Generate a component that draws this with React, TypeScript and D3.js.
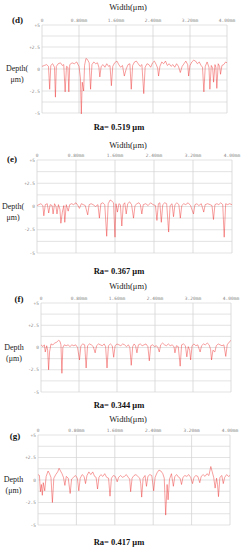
import React from 'react';
import * as d3 from 'd3';

// surface profiles, [width (mm), depth (µm)]
const profileD: [number, number][] = [
  [0, 0.3], [0.05, 0.4], [0.1, 0.5], [0.14, 0.3], [0.166, -2.3], [0.19, 0.4], [0.23, 0.6], [0.27, 0.2], [0.29, -3.2],
  [0.31, 0.3], [0.35, 0.6], [0.4, 0.7], [0.44, 0.4], [0.47, 0.5], [0.5, -2.6], [0.53, 0.3], [0.56, 0.2], [0.58, -2.6],
  [0.6, 0.5], [0.65, 0.7], [0.7, 0.6], [0.75, 0.8], [0.8, 0.3], [0.83, -1.0], [0.85, -5.1], [0.87, -1.5], [0.9, -2.5],
  [0.92, 0.4], [0.95, 1.2], [0.98, 1.1], [1.02, 0.7], [1.05, -2.3], [1.08, 0.5], [1.12, 0.8], [1.16, 0.6], [1.2, 0.7],
  [1.23, 0.2], [1.25, -0.9], [1.28, 0.3], [1.32, 0.5], [1.36, 0.2], [1.4, 0.6], [1.44, 0.3], [1.47, 0.4], [1.5, -1.9],
  [1.53, 0.3], [1.57, 0.7], [1.62, 0.9], [1.66, 0.5], [1.7, 0.2], [1.74, 0.4], [1.78, -0.8], [1.82, 0.0], [1.86, 0.5],
  [1.9, 0.6], [1.93, -2.3], [1.96, 0.4], [2.0, 0.8], [2.04, 0.9], [2.08, 0.6], [2.12, 0.3], [2.16, 0.5], [2.2, -2.8],
  [2.23, 0.2], [2.27, 0.6], [2.31, 0.5], [2.35, 0.2], [2.39, 0.7], [2.43, 0.9], [2.47, 0.5], [2.5, 0.1], [2.52, -0.8],
  [2.55, 0.3], [2.59, 0.8], [2.63, 0.6], [2.67, 0.9], [2.71, 0.4], [2.75, 0.6], [2.79, 0.3], [2.83, 0.5], [2.87, 0.2],
  [2.91, 0.6], [2.95, 0.3], [2.99, -0.4], [3.03, 0.3], [3.07, 0.6], [3.11, 0.9], [3.15, 0.5], [3.17, -0.8], [3.2, 0.4],
  [3.24, 0.8], [3.28, 1.0], [3.32, 0.9], [3.36, 0.6], [3.4, 0.8], [3.44, 0.4], [3.47, 0.2], [3.5, -2.6], [3.53, 0.3],
  [3.57, 0.8], [3.61, 0.2], [3.63, -2.3], [3.66, 0.4], [3.69, 0.1], [3.71, -1.5], [3.74, 0.5], [3.76, 0.2], [3.78, -2.2],
  [3.81, 0.6], [3.84, 0.3], [3.86, -0.6], [3.89, 0.4], [3.93, 0.5], [3.97, 0.8], [4.0, 0.7],
];

const profileE: [number, number][] = [
  [0, 0.1], [0.04, 0.2], [0.08, 0.3], [0.12, 0.1], [0.14, -1.0], [0.17, 0.2], [0.21, 0.3], [0.24, -0.7], [0.27, 0.2],
  [0.31, 0.1], [0.33, -0.8], [0.36, 0.3], [0.39, 0.0], [0.41, -0.8], [0.44, 0.2], [0.47, -0.3], [0.49, -1.8], [0.52, -0.6],
  [0.55, 0.1], [0.57, -1.7], [0.6, 0.2], [0.64, -0.5], [0.67, 0.2], [0.71, 0.3], [0.75, 0.2], [0.8, 0.4], [0.84, 0.1],
  [0.87, -0.2], [0.91, 0.3], [0.95, 0.2], [0.99, 0.1], [1.04, -0.9], [1.07, 0.2], [1.11, 0.3], [1.15, 0.2], [1.2, 0.0],
  [1.25, 0.2], [1.28, -1.25], [1.31, 0.3], [1.35, 0.4], [1.39, 0.2], [1.43, -3.2], [1.46, 0.3], [1.5, 0.7], [1.53, 0.6],
  [1.57, 0.4], [1.6, -3.3], [1.62, 0.3], [1.65, -0.6], [1.68, 0.3], [1.71, 0.2], [1.74, -2.1], [1.77, 0.2], [1.8, 0.4],
  [1.83, -0.8], [1.86, 0.3], [1.9, 0.5], [1.94, 0.2], [1.98, -1.25], [2.01, 0.1], [2.05, 0.3], [2.09, 0.4], [2.12, 0.2],
  [2.15, -0.8], [2.18, 0.2], [2.23, 0.3], [2.28, 0.1], [2.33, 0.4], [2.38, 0.2], [2.43, 0.1], [2.46, -1.5], [2.49, 0.3],
  [2.52, 0.4], [2.55, -1.7], [2.58, 0.2], [2.62, 0.4], [2.66, 0.3], [2.7, -2.75], [2.73, 0.1], [2.77, 0.3], [2.8, -1.1],
  [2.83, 0.2], [2.87, 0.4], [2.91, 0.2], [2.94, -1.25], [2.97, 0.1], [3.01, 0.3], [3.05, 0.2], [3.1, 0.4], [3.15, 0.1],
  [3.21, -0.8], [3.24, 0.2], [3.28, 0.3], [3.32, 0.1], [3.37, 0.3], [3.42, -0.6], [3.45, 0.2], [3.5, 0.3], [3.55, 0.2],
  [3.59, 0.1], [3.62, -1.4], [3.65, 0.2], [3.69, 0.3], [3.73, 0.2], [3.77, 0.4], [3.81, 0.2], [3.84, -3.3], [3.87, 0.3],
  [3.91, 0.2], [3.95, 0.3], [4.0, 0.2],
];

const profileF: [number, number][] = [
  [0, 0.3], [0.04, 0.1], [0.07, 0.3], [0.09, -0.5], [0.12, 0.2], [0.14, -0.3], [0.16, -2.5], [0.18, -0.5], [0.21, 0.4],
  [0.25, 0.3], [0.29, 0.5], [0.33, 0.6], [0.37, 0.8], [0.4, 0.7], [0.42, 0.3], [0.44, -2.9], [0.46, 0.0], [0.49, 0.3],
  [0.53, 0.2], [0.57, 0.3], [0.61, 0.1], [0.65, 0.3], [0.69, 0.2], [0.73, 0.3], [0.77, 0.0], [0.81, -1.4], [0.84, 0.2],
  [0.88, 0.4], [0.92, 0.3], [0.95, -2.3], [0.98, 0.2], [1.02, 0.4], [1.06, 0.3], [1.1, 0.1], [1.14, -0.6], [1.17, 0.2],
  [1.21, 0.4], [1.25, 0.3], [1.29, 0.2], [1.33, 0.4], [1.36, 0.1], [1.39, -2.3], [1.42, 0.2], [1.46, 0.4], [1.5, 0.2],
  [1.53, -1.1], [1.56, 0.2], [1.6, 0.4], [1.64, 0.3], [1.68, 0.2], [1.72, 0.4], [1.76, 0.3], [1.8, 0.1], [1.84, 0.3],
  [1.87, 0.0], [1.9, -2.0], [1.93, 0.1], [1.96, 0.4], [1.99, 0.2], [2.02, -0.6], [2.05, 0.3], [2.09, 0.4], [2.13, 0.2],
  [2.17, 0.3], [2.21, 0.4], [2.25, 0.1], [2.28, -1.5], [2.31, 0.2], [2.35, 0.3], [2.39, 0.1], [2.43, 0.2], [2.46, 0.0],
  [2.49, -0.5], [2.52, 0.3], [2.56, 0.5], [2.6, 0.3], [2.64, 0.2], [2.68, 0.4], [2.72, 0.2], [2.76, 0.3], [2.8, 0.1],
  [2.82, -0.6], [2.85, 0.2], [2.89, 0.1], [2.93, -2.1], [2.96, 0.3], [3.0, 0.4], [3.04, 0.2], [3.07, -1.05], [3.1, 0.1],
  [3.13, -0.3], [3.15, -1.4], [3.18, 0.2], [3.22, 0.4], [3.26, 0.2], [3.3, 0.3], [3.35, -0.5], [3.38, 0.2], [3.42, 0.4],
  [3.46, 0.3], [3.5, 0.5], [3.54, 0.3], [3.57, -0.2], [3.59, -1.4], [3.62, -0.3], [3.66, -0.5], [3.69, 0.2], [3.73, 0.4],
  [3.77, 0.3], [3.81, 0.2], [3.85, 0.3], [3.89, -1.0], [3.92, 0.3], [3.96, 0.6], [4.0, 0.8],
];

const profileG: [number, number][] = [
  [0, 0.6], [0.03, 0.5], [0.05, -1.3], [0.07, -0.5], [0.09, -1.7], [0.11, -0.3], [0.14, -1.2], [0.17, 0.4], [0.21, 1.0],
  [0.24, 0.7], [0.27, 0.3], [0.3, -2.5], [0.33, 0.2], [0.37, 0.6], [0.41, 0.9], [0.44, 1.3], [0.47, 1.0], [0.5, 0.7],
  [0.53, 0.3], [0.56, -0.6], [0.59, 0.4], [0.63, 0.2], [0.67, -1.5], [0.7, 0.1], [0.74, 0.3], [0.78, 0.5], [0.82, 0.2],
  [0.85, -1.2], [0.88, 0.2], [0.92, 0.6], [0.96, 0.4], [0.99, -0.4], [1.02, 0.5], [1.06, 0.9], [1.1, 0.6], [1.14, 0.9],
  [1.18, 0.4], [1.21, 0.3], [1.24, -1.0], [1.27, 0.3], [1.31, 0.6], [1.35, 0.4], [1.39, 0.7], [1.43, 0.3], [1.47, 0.2],
  [1.5, -1.8], [1.53, 0.2], [1.57, 0.5], [1.61, 0.4], [1.65, -0.2], [1.68, 0.3], [1.72, 0.5], [1.76, 0.3], [1.8, 0.4],
  [1.84, 0.6], [1.88, 0.3], [1.91, 0.1], [1.93, -1.3], [1.96, 0.2], [2.0, 0.5], [2.04, 0.6], [2.08, 0.4], [2.12, 0.2],
  [2.14, -0.4], [2.16, -1.9], [2.19, 0.2], [2.23, 0.5], [2.26, -0.7], [2.29, 0.4], [2.33, 0.6], [2.37, 0.5], [2.41, -1.2],
  [2.44, 0.3], [2.48, 0.8], [2.52, 1.1], [2.56, 1.0], [2.6, 0.7], [2.63, 0.2], [2.66, -3.9], [2.69, -0.5], [2.71, -2.2],
  [2.74, 0.1], [2.78, 0.7], [2.82, -0.7], [2.85, 0.4], [2.89, 0.6], [2.93, 0.3], [2.96, 0.2], [2.99, -0.5], [3.02, 0.3],
  [3.06, 0.5], [3.1, 0.4], [3.14, 0.6], [3.18, 0.3], [3.22, -0.4], [3.25, 0.3], [3.29, 0.5], [3.33, 0.4], [3.37, -0.3],
  [3.4, 0.4], [3.44, 0.6], [3.48, 0.4], [3.52, 0.7], [3.56, 0.5], [3.6, 1.5], [3.63, 0.9], [3.66, 0.3], [3.69, -0.9],
  [3.72, 0.2], [3.74, -0.5], [3.76, -1.85], [3.79, 0.3], [3.83, 0.5], [3.86, -0.4], [3.89, 0.3], [3.93, 0.6], [3.97, 0.4],
  [4.0, 0.5],
];

const xTicks = [0, 0.8, 1.6, 2.4, 3.2, 4.0];
const xTickLabels = ['0', '0.80mm', '1.60mm', '2.40mm', '3.20mm', '4.00mm'];
const yTicks = [5, 2.5, 0, -2.5, -5];
const yTickLabels = ['+5', '+2.5', '0', '-2.5', '-5'];
const yGrid = [5, 3.75, 2.5, 1.25, 0, -1.25, -2.5, -3.75, -5];

const panels = [
  { tag: '(d)', ra: 'Ra= 0.519 μm', depth: ['Depth(', 'μm)'], data: profileD,
    left: 42, right: 227, top: 25, bottom: 113, titleY: 10, tickY: 21.5, tagX: 17.5, tagY: 23, depthX: 17, raY: 130 },
  { tag: '(e)', ra: 'Ra= 0.367 μm', depth: ['Depth(', 'μm)'], data: profileE,
    left: 37, right: 232, top: 160, bottom: 253, titleY: 148, tickY: 156.5, tagX: 12, tagY: 162, depthX: 13, raY: 274 },
  { tag: '(f)', ra: 'Ra= 0.344 μm', depth: ['Depth', '(μm)'], data: profileF,
    left: 41, right: 231, top: 303, bottom: 392, titleY: 289, tickY: 299.5, tagX: 19, tagY: 302, depthX: 14, raY: 408 },
  { tag: '(g)', ra: 'Ra= 0.417 μm', depth: ['Depth', '(μm)'], data: profileG,
    left: 38, right: 230, top: 435, bottom: 525, titleY: 422, tickY: 431.5, tagX: 15, tagY: 439, depthX: 13.5, raY: 545 },
];

const serif = '"Liberation Serif", "Times New Roman", serif';

function Panel({ p }: { p: typeof panels[number] }) {
  const x = d3.scaleLinear().domain([0, 4]).range([p.left, p.right]);
  const y = d3.scaleLinear().domain([5, -5]).range([p.top, p.bottom]);
  const line = d3.line<[number, number]>().x(d => x(d[0])).y(d => y(d[1]));
  return (
    <g>
      <text x={128} y={p.titleY} fontFamily={serif} fontSize={8.5} textAnchor="middle" fill="#222">Width(μm)</text>
      <text x={p.tagX} y={p.tagY} fontFamily={serif} fontSize={9} fontWeight="bold" textAnchor="middle" fill="#111">{p.tag}</text>
      {yGrid.map(v => (
        <line key={'h' + v} x1={p.left} x2={p.right} y1={y(v)} y2={y(v)} stroke="#dcdcdc" strokeWidth={0.8} />
      ))}
      {xTicks.map(v => (
        <line key={'v' + v} x1={x(v)} x2={x(v)} y1={p.top} y2={p.bottom} stroke="#d4d4d4" strokeWidth={0.8} />
      ))}
      {xTicks.map((v, i) => (
        <text key={'xt' + v} x={x(v)} y={p.tickY} fontFamily="DejaVu Sans Mono" fontSize={4.5} textAnchor="middle" fill="#888">{xTickLabels[i]}</text>
      ))}
      {yTicks.map((v, i) => (
        <text key={'yt' + v} x={p.left - 2} y={y(v) + 1.6} fontFamily="DejaVu Sans Mono" fontSize={4.5} textAnchor="end" fill="#888">{yTickLabels[i]}</text>
      ))}
      <text x={p.depthX} y={y(0) + 2} fontFamily={serif} fontSize={8} textAnchor="middle" fill="#222">{p.depth[0]}</text>
      <text x={p.depthX} y={y(0) + 13} fontFamily={serif} fontSize={8} textAnchor="middle" fill="#222">{p.depth[1]}</text>
      <path d={line(p.data) || ''} fill="none" stroke="#ee2a2a" strokeWidth={0.5} strokeOpacity={0.9} />
      <text x={119} y={p.raY} fontFamily={serif} fontSize={8.5} fontWeight="bold" textAnchor="middle" fill="#111">{p.ra}</text>
    </g>
  );
}

export default function App() {
  return (
    <svg width={244} height={550} style={{ position: 'absolute', left: 0, top: 0, background: '#fff' }}>
      <rect width={244} height={550} fill="#fff" />
      {panels.map(p => <Panel key={p.tag} p={p} />)}
    </svg>
  );
}
